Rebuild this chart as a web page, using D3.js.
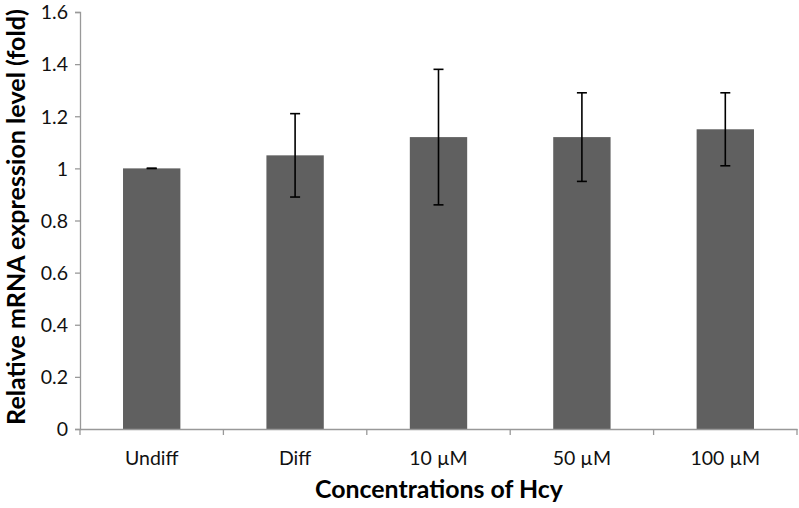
<!DOCTYPE html>
<html><head><meta charset="utf-8">
<script src="https://cdn.jsdelivr.net/npm/d3@7/dist/d3.min.js"></script>
<style>body{margin:0;background:#fff}svg{display:block}</style>
</head><body>
<svg id="c" width="799" height="508"></svg>
<script>
const categories = ["Undiff", "Diff", "10 µM", "50 µM", "100 µM"];
const values = [1.0, 1.05, 1.12, 1.12, 1.15];
const errors = [0.0, 0.16, 0.26, 0.17, 0.14];
const yTicks = [0, 0.2, 0.4, 0.6, 0.8, 1, 1.2, 1.4, 1.6];
const xTitle = "Concentrations of Hcy";
const yTitle = "Relative mRNA expression level (fold)";

(function () {
const svg = d3.select("#c");
const font = "Lato, 'Open Sans', sans-serif";
const mLeft = 80, mRight = 797, mTop = 12, mBottom = 429;
const xb = d3.scaleBand().domain(categories).range([mLeft, mRight]);
const y = d3.scaleLinear().domain([0, 1.6]).range([mBottom, mTop]);

// bars
svg.selectAll("rect.bar").data(values).enter().append("rect")
  .attr("x", (d, i) => xb(categories[i]) + xb.bandwidth() / 2 - xb.bandwidth() * 0.2)
  .attr("width", xb.bandwidth() * 0.4)
  .attr("y", d => y(d))
  .attr("height", d => y(0) - y(d))
  .attr("fill", "#606060");

// error bars
const eg = svg.append("g").attr("stroke", "#000").attr("stroke-width", 1.6);
values.forEach((v, i) => {
  const cx = xb(categories[i]) + xb.bandwidth() / 2;
  const hi = y(v + errors[i]), lo = y(v - errors[i]);
  eg.append("line").attr("x1", cx).attr("x2", cx).attr("y1", hi).attr("y2", lo);
  eg.append("line").attr("x1", cx - 5).attr("x2", cx + 5).attr("y1", hi).attr("y2", hi);
  eg.append("line").attr("x1", cx - 5).attr("x2", cx + 5).attr("y1", lo).attr("y2", lo);
});

// y axis
const ya = svg.append("g").attr("transform", `translate(${mLeft},0)`)
  .call(d3.axisLeft(y).tickValues(yTicks).tickSize(5).tickPadding(7).tickFormat(d => String(d)));
ya.select(".domain").attr("stroke", "#999").attr("stroke-width", 1.3);
ya.selectAll(".tick line").attr("stroke", "#999").attr("stroke-width", 1.3);
ya.selectAll(".tick text").attr("font-family", font).attr("font-size", 19.5).attr("fill", "#111").attr("dy", "0.35em");

// x axis
const xa = svg.append("g").attr("transform", `translate(0,${mBottom})`)
  .call(d3.axisBottom(xb).tickSize(0));
xa.select(".domain").attr("stroke", "#999").attr("stroke-width", 1.3);
xa.selectAll(".tick text").attr("font-family", font).attr("font-size", 19.5).attr("fill", "#111")
  .attr("y", 36).attr("dy", null);
// category boundary ticks
const bounds = categories.map(c => xb(c)).concat([mRight]);
svg.append("g").selectAll("line").data(bounds).enter().append("line")
  .attr("x1", d => d).attr("x2", d => d).attr("y1", mBottom).attr("y2", mBottom + 6)
  .attr("stroke", "#999").attr("stroke-width", 1.3);

// titles (font size fitted to the reference text extent)
function fit(sel, target) {
  const w = sel.node().getComputedTextLength();
  sel.attr("font-size", 20 * target / w);
}
const xt = svg.append("text").attr("x", 439).attr("y", 498).attr("text-anchor", "middle")
  .attr("font-family", font).attr("font-weight", "bold").attr("font-size", 20).attr("fill", "#000").text(xTitle);
fit(xt, 248);
const yt = svg.append("text").attr("transform", "translate(25,217) rotate(-90)").attr("text-anchor", "middle")
  .attr("font-family", font).attr("font-weight", "bold").attr("font-size", 20).attr("fill", "#000").text(yTitle);
fit(yt, 416);
})();
</script>
</body></html>
